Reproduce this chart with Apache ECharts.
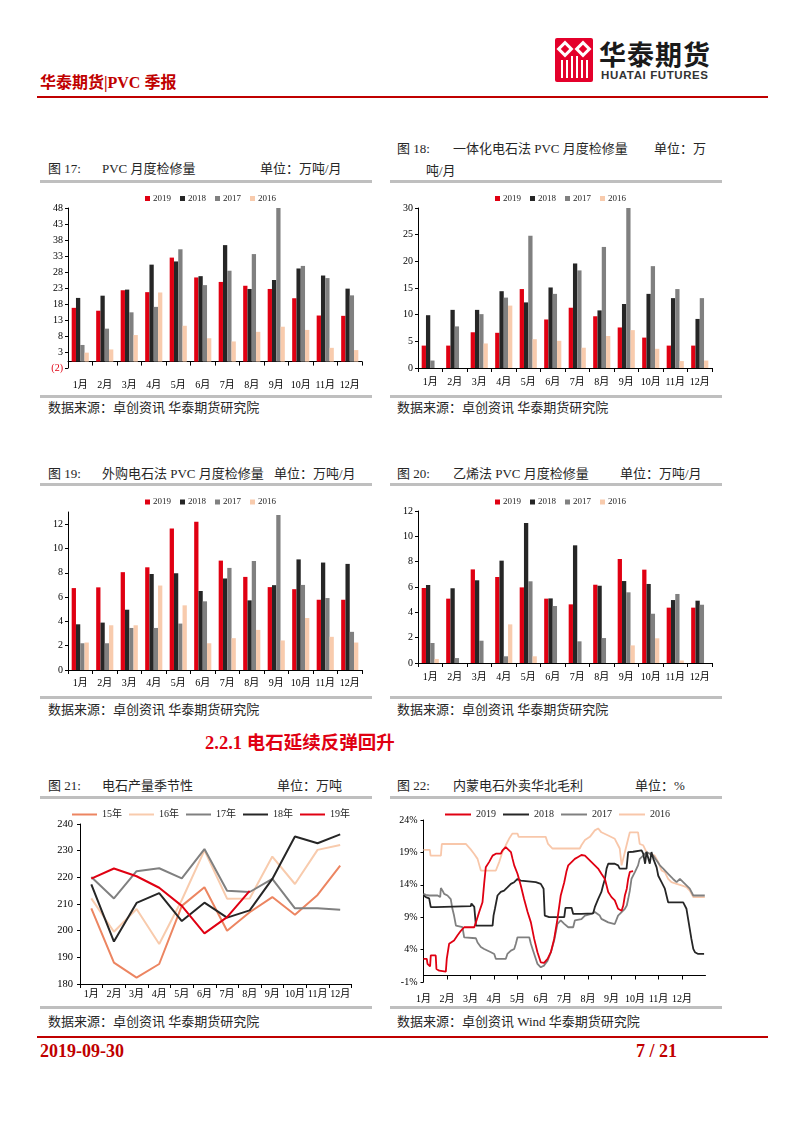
<!DOCTYPE html>
<html><head><meta charset="utf-8">
<script src="https://cdn.jsdelivr.net/npm/echarts@6/dist/echarts.min.js"></script>
<style>
html,body{margin:0;padding:0;background:#fff;}
#page{position:relative;width:802px;height:1133px;overflow:hidden;background:#fff;}
.t{position:absolute;white-space:nowrap;line-height:1;font-family:'Liberation Serif','Noto Sans CJK SC',serif;color:#262626;font-size:13px;}
.hl{position:absolute;background:#BFBFBF;height:3px;}
.rl{position:absolute;background:#C00000;height:2px;}
.chart{position:absolute;left:0;top:0;width:802px;height:1133px;}
</style></head><body><div id="page">
<!-- header -->
<div style="position:absolute;left:555px;top:38px;width:38px;height:44px;background:#E4002B;border-radius:2px;overflow:hidden;">
  <div style="position:absolute;left:4px;top:5px;width:12px;height:12px;background:#fff;transform:rotate(45deg)"></div>
  <div style="position:absolute;left:22px;top:5px;width:12px;height:12px;background:#fff;transform:rotate(45deg)"></div>
  <div style="position:absolute;left:7px;top:8px;width:6px;height:6px;background:#E4002B;transform:rotate(45deg)"></div>
  <div style="position:absolute;left:25px;top:8px;width:6px;height:6px;background:#E4002B;transform:rotate(45deg)"></div>
  <div style="position:absolute;left:6px;top:22px;width:2px;height:18px;background:#fff"></div>
  <div style="position:absolute;left:11px;top:22px;width:2px;height:18px;background:#fff"></div>
  <div style="position:absolute;left:16px;top:18px;width:2px;height:22px;background:#fff"></div>
  <div style="position:absolute;left:21px;top:18px;width:2px;height:22px;background:#fff"></div>
  <div style="position:absolute;left:26px;top:22px;width:2px;height:18px;background:#fff"></div>
  <div style="position:absolute;left:31px;top:22px;width:2px;height:18px;background:#fff"></div>
</div>
<div class="t" style="left:599px;top:40px;font-size:27px;font-weight:bold;color:#1a1a1a;font-family:'Noto Sans CJK SC',sans-serif;letter-spacing:1px;">华泰期货</div>
<div class="t" style="left:601px;top:70px;font-size:11.5px;font-weight:bold;color:#333;font-family:'Liberation Sans','DejaVu Sans',sans-serif;letter-spacing:0.6px;">HUATAI FUTURES</div>
<div class="t" style="left:40px;top:75px;font-size:16px;font-weight:bold;color:#C00000;">华泰期货|PVC 季报</div>
<div class="rl" style="left:37px;top:96px;width:731px;"></div>

<!-- fig 17 / 18 titles -->
<div class="t" style="left:48px;top:161.5px;">图 17:</div>
<div class="t" style="left:102px;top:161.5px;">PVC 月度检修量</div>
<div class="t" style="left:260px;top:161.5px;">单位：万吨/月</div>
<div class="t" style="left:397px;top:141.5px;">图 18:</div>
<div class="t" style="left:453px;top:141.5px;">一体化电石法 PVC 月度检修量</div>
<div class="t" style="left:654px;top:141.5px;">单位：万</div>
<div class="t" style="left:426px;top:163.5px;">吨/月</div>
<div class="hl" style="left:40px;top:180px;width:332px;"></div>
<div class="hl" style="left:390px;top:180px;width:332px;"></div>
<div class="hl" style="left:40px;top:395px;width:332px;"></div>
<div class="hl" style="left:390px;top:395px;width:332px;"></div>
<div class="t" style="left:48px;top:400.5px;">数据来源：卓创资讯 华泰期货研究院</div>
<div class="t" style="left:397px;top:400.5px;">数据来源：卓创资讯 华泰期货研究院</div>

<!-- fig 19 / 20 titles -->
<div class="t" style="left:48px;top:466.5px;">图 19:</div>
<div class="t" style="left:102px;top:466.5px;">外购电石法 PVC 月度检修量</div>
<div class="t" style="left:274px;top:466.5px;">单位：万吨/月</div>
<div class="t" style="left:397px;top:466.5px;">图 20:</div>
<div class="t" style="left:453px;top:466.5px;">乙烯法 PVC 月度检修量</div>
<div class="t" style="left:620px;top:466.5px;">单位：万吨/月</div>
<div class="hl" style="left:40px;top:483px;width:332px;"></div>
<div class="hl" style="left:390px;top:483px;width:332px;"></div>
<div class="hl" style="left:40px;top:695.5px;width:332px;"></div>
<div class="hl" style="left:390px;top:695.5px;width:332px;"></div>
<div class="t" style="left:48px;top:702.5px;">数据来源：卓创资讯 华泰期货研究院</div>
<div class="t" style="left:397px;top:702.5px;">数据来源：卓创资讯 华泰期货研究院</div>

<div class="t" style="left:205px;top:734px;font-size:18.5px;font-weight:bold;color:#E00012;">2.2.1 电石延续反弹回升</div>

<!-- fig 21 / 22 titles -->
<div class="t" style="left:48px;top:778.5px;">图 21:</div>
<div class="t" style="left:102px;top:778.5px;">电石产量季节性</div>
<div class="t" style="left:277px;top:778.5px;">单位：万吨</div>
<div class="t" style="left:397px;top:778.5px;">图 22:</div>
<div class="t" style="left:453px;top:778.5px;">内蒙电石外卖华北毛利</div>
<div class="t" style="left:635px;top:778.5px;">单位：%</div>
<div class="hl" style="left:40px;top:796px;width:332px;"></div>
<div class="hl" style="left:390px;top:796px;width:332px;"></div>
<div class="hl" style="left:40px;top:1006px;width:332px;"></div>
<div class="hl" style="left:390px;top:1006px;width:332px;"></div>
<div class="t" style="left:48px;top:1014.5px;">数据来源：卓创资讯 华泰期货研究院</div>
<div class="t" style="left:397px;top:1014.5px;">数据来源：卓创资讯 Wind 华泰期货研究院</div>

<!-- footer -->
<div class="rl" style="left:37px;top:1036px;width:731px;"></div>
<div class="t" style="left:40px;top:1042px;font-size:18px;font-weight:bold;color:#C00000;">2019-09-30</div>
<div class="t" style="left:636px;top:1042px;font-size:18px;font-weight:bold;color:#C00000;">7 / 21</div>

<div id="c17" class="chart"></div>
<div id="c18" class="chart"></div>
<div id="c19" class="chart"></div>
<div id="c20" class="chart"></div>
<div id="c21" class="chart"></div>
<div id="c22" class="chart"></div>
</div>
<script>
const SERIF = "'Liberation Serif','Noto Sans CJK SC',serif";
const months = ['1月','2月','3月','4月','5月','6月','7月','8月','9月','10月','11月','12月'];
const barYears = ['2019','2018','2017','2016'];
const barColors = ['#E00012','#262626','#808080','#F8CBAD'];

// Fig 17: PVC monthly maintenance
const c17_2019 = [16.8,15.9,22.3,21.7,32.5,26.3,24.9,23.7,22.7,19.8,14.4,14.3];
const c17_2018 = [19.9,20.6,22.5,30.3,31.3,26.7,36.4,22.7,25.5,29.1,26.9,22.8];
const c17_2017 = [5.2,10.3,15.4,17.1,35.1,23.9,28.4,33.6,48.0,29.9,26.1,20.7];
const c17_2016 = [2.8,3.8,8.3,21.6,11.2,7.3,6.3,9.3,10.9,9.9,4.3,3.6];
const c17_ticks = [-2,3,8,13,18,23,28,33,38,43,48];

// Fig 18: integrated calcium carbide method
const c18_2019 = [4.2,4.2,6.7,6.6,14.8,9.1,11.3,9.7,7.6,5.7,4.2,4.2];
const c18_2018 = [9.9,10.9,10.9,14.4,12.3,15.1,19.6,10.8,12.0,13.9,13.1,9.2];
const c18_2017 = [1.4,7.8,10.1,13.2,24.8,13.9,18.3,22.7,30.0,19.1,14.8,13.1];
const c18_2016 = [0,0,4.6,11.7,5.4,5.1,3.8,6.0,7.1,3.6,1.3,1.4];
const c18_ticks = [0,5,10,15,20,25,30];

// Fig 19: purchased calcium carbide method
const c19_2019 = [6.74,6.8,8.05,8.45,11.64,12.2,9.0,7.66,6.82,6.65,5.78,5.78];
const c19_2018 = [3.76,3.9,4.96,7.9,7.96,6.5,7.53,5.73,6.98,9.1,8.84,8.73];
const c19_2017 = [2.2,2.2,3.46,3.46,3.82,5.65,8.4,8.97,12.76,7.0,5.92,3.14];
const c19_2016 = [2.26,3.68,3.68,6.95,5.32,2.2,2.62,3.3,2.43,4.28,2.73,2.26];
const c19_ticks = [0,2,4,6,8,10,12];

// Fig 20: ethylene method
const c20_2019 = [5.92,5.08,7.39,6.79,5.97,5.08,4.63,6.18,8.21,7.37,4.37,4.37];
const c20_2018 = [6.16,5.9,6.53,8.08,11.05,5.1,9.29,6.1,6.47,6.24,4.97,4.92];
const c20_2017 = [1.58,0.39,1.76,0.53,6.45,4.5,1.71,1.97,5.58,3.89,5.45,4.6];
const c20_2016 = [0.32,0,0,3.05,0.53,0,0,0,1.39,1.95,0.2,0];
const c20_ticks = [0,2,4,6,8,10,12];

// Fig 21: calcium carbide output seasonality
const lineYears21 = ['15年','16年','17年','18年','19年'];
const s21_15 = [208.4,188.0,182.4,187.5,209.3,216.3,200.0,206.9,212.6,206.0,213.4,224.4];
const s21_16 = [212.1,199.6,208.1,195.0,211.5,230.1,212.0,212.1,227.8,217.5,230.3,232.1];
const s21_17 = [220.1,212.1,222.3,223.4,219.6,230.6,215.0,214.5,219.4,208.4,208.4,207.8];
const s21_18 = [217.4,195.9,210.4,214.1,203.6,210.5,204.9,207.6,219.4,235.3,232.8,236.1];
const s21_19 = [219.5,223.3,220.4,216.1,209.3,199.0,205.1,214.9];
const c21_ticks = [180,190,200,210,220,230,240];

// Fig 22: Inner Mongolia carbide to North China margin (x = month position, 0 = Jan 1)
const m22_2019 = [[0,2.56],[0.14,2.56],[0.17,1.8],[0.28,1.4],[0.31,3.1],[0.52,3.1],[0.55,1.0],[0.67,0.75],[0.95,0.6],[0.99,2.56],[1.09,4.9],[1.3,5.4],[1.45,6.2],[1.59,6.9],[1.73,7.45],[2.16,7.45],[2.23,8.2],[2.37,9.8],[2.51,11.3],[2.58,14.15],[2.65,16.7],[2.79,17.5],[2.94,18.5],[3.08,18.8],[3.29,18.8],[3.36,19.3],[3.5,19.8],[3.57,20.1],[3.72,19.05],[3.79,18.0],[3.86,17.0],[4.0,15.7],[4.14,13.9],[4.28,11.8],[4.43,9.8],[4.57,8.2],[4.71,5.65],[4.85,3.6],[4.99,2.04],[5.13,1.94],[5.28,2.56],[5.42,3.6],[5.56,5.65],[5.7,8.7],[5.84,12.35],[5.99,14.4],[6.08,16.0],[6.16,17.0],[6.3,17.5],[6.44,18.0],[6.58,18.3],[6.72,18.6],[6.87,18.5],[7.01,18.0],[7.15,17.5],[7.29,17.0],[7.43,16.5],[7.57,15.7],[7.72,14.9],[7.86,12.9],[8.0,12.1],[8.14,11.6],[8.28,10.3],[8.43,10.0],[8.5,10.8],[8.57,12.35],[8.65,13.4],[8.71,14.9],[8.78,16.0],[8.92,16.1]];
const m22_2018 = [[0,12.35],[0.1,12.1],[0.24,11.9],[0.31,10.55],[0.52,10.55],[0.6,10.7],[2.01,10.7],[2.04,11.1],[2.16,10.6],[2.23,7.7],[2.94,7.7],[2.98,9.25],[3.04,10.3],[3.15,12.35],[3.29,12.9],[3.43,13.1],[3.57,13.6],[3.72,14.15],[3.86,14.4],[4.0,14.9],[4.14,14.65],[4.78,14.4],[4.99,14.15],[5.11,13.4],[5.16,9.25],[5.35,9.0],[5.99,9.0],[6.04,10.45],[6.3,10.45],[6.37,9.5],[6.72,9.5],[6.8,9.6],[7.22,9.6],[7.29,10.55],[7.43,11.8],[7.57,12.9],[7.64,13.9],[7.72,14.9],[7.79,16.5],[7.86,17.25],[8.14,17.25],[8.28,17.0],[8.35,16.5],[8.64,16.5],[8.71,19.05],[8.92,19.1],[9.28,19.3],[9.35,18.8],[9.43,17.25],[9.49,19.05],[9.57,18.8],[9.63,17.25],[9.7,19.05],[9.78,18.0],[9.92,16.7],[9.99,15.4],[10.13,14.4],[10.27,13.4],[10.41,11.3],[11.05,11.3],[11.19,10.3],[11.26,8.74],[11.33,7.2],[11.4,5.65],[11.48,4.1],[11.55,3.6],[11.69,3.33],[11.94,3.33]];
const m22_2017 = [[0,12.6],[0.1,12.45],[0.24,12.35],[0.6,12.35],[0.71,12.1],[0.74,13.5],[0.81,13.1],[0.88,12.6],[1.02,12.35],[1.16,11.8],[1.23,10.3],[1.3,9.25],[1.38,7.7],[1.66,7.45],[1.73,5.9],[2.23,5.75],[2.3,5.1],[2.37,4.9],[2.44,4.4],[2.58,4.1],[2.65,3.85],[2.87,3.6],[3.01,3.33],[3.08,2.56],[3.5,2.56],[3.57,3.33],[3.72,3.85],[3.86,4.1],[3.93,4.9],[4.0,5.9],[4.5,5.9],[4.57,4.9],[4.64,4.1],[4.71,3.33],[4.78,2.56],[4.85,1.8],[4.99,1.27],[5.13,1.53],[5.28,2.3],[5.42,3.6],[5.56,5.4],[5.7,7.97],[5.84,8.5],[5.99,7.97],[6.16,7.45],[6.37,7.45],[6.44,8.5],[6.72,8.7],[6.87,9.25],[7.15,9.5],[7.29,9.8],[7.5,9.25],[7.57,8.74],[7.86,8.2],[8.14,7.95],[8.21,7.7],[8.28,9.25],[8.43,9.8],[8.57,10.3],[8.65,10.8],[8.71,11.8],[8.78,13.1],[8.85,14.9],[9.0,16.0],[9.13,17.0],[9.2,18.0],[9.35,18.5],[9.49,19.05],[9.63,18.8],[9.77,18.5],[9.92,17.75],[10.06,17.0],[10.2,16.5],[10.41,15.7],[10.62,14.9],[10.77,14.4],[10.91,14.9],[11.05,14.4],[11.19,13.9],[11.33,13.4],[11.48,12.35],[11.97,12.35]];
const m22_2016 = [[0,19.4],[0.27,19.4],[0.3,18.5],[0.74,18.5],[0.78,20.3],[1.8,20.3],[1.87,20.0],[2.0,19.5],[2.15,18.8],[2.3,18.0],[2.44,16.2],[3.08,16.2],[3.22,17.5],[3.36,19.05],[3.5,20.1],[3.64,21.1],[3.78,21.9],[4.0,21.9],[4.05,21.4],[5.2,21.4],[5.3,20.3],[5.49,19.6],[6.65,19.6],[6.72,20.1],[6.87,20.9],[7.08,21.4],[7.29,22.4],[7.43,22.7],[7.57,22.1],[7.86,21.6],[8.14,21.1],[8.28,20.1],[8.35,19.6],[8.43,17.0],[8.5,17.0],[8.57,19.05],[8.71,21.1],[8.78,22.1],[9.13,22.1],[9.2,20.3],[9.35,20.1],[9.49,19.05],[9.63,18.8],[9.84,18.5],[9.99,17.5],[10.13,16.2],[10.27,15.96],[10.41,14.9],[10.55,14.4],[10.77,14.15],[10.98,13.9],[11.19,13.64],[11.33,13.1],[11.48,12.1],[11.97,12.1]];
const c22_yticks = [-1,4,9,14,19,24];
const c22_xticks = [0,1,2,3,4,5,6,7,8,9,10,11];

function initChart(id){
  return echarts.init(document.getElementById(id), null, {renderer:'canvas', width:802, height:1133});
}

function makeBar(id, o){
  const ch = initChart(id);
  ch.setOption({
    animation:false,
    backgroundColor:'transparent',
    legend:{data:barYears, left:o.legendLeft, top:o.legendTop, padding:0, icon:'rect', itemWidth:5, itemHeight:5, itemGap:9,
      textStyle:{fontFamily:SERIF, fontSize:9, color:'#262626', padding:[0,0,0,-2]}},
    grid:{left:o.grid[0], top:o.grid[1], width:o.grid[2], height:o.grid[3], containLabel:false},
    xAxis:{type:'category', data:months, boundaryGap:true,
      axisLine:{show:true, onZero:true, lineStyle:{color:'#000', width:1}},
      axisTick:{show:true, length:4, inside:false, lineStyle:{color:'#000'}},
      axisLabel:{margin:o.labelMargin, fontSize:10, color:'#000', fontFamily:SERIF, interval:0},
      splitLine:{show:false}},
    yAxis:{type:'value', min:o.min, max:o.max, interval:o.interval,
      axisLine:{show:true, lineStyle:{color:'#000', width:1}},
      axisTick:{show:true, length:3, lineStyle:{color:'#000'}, customValues:o.ticks},
      axisLabel:{customValues:o.ticks, margin:5, fontSize:10, color:'#000', fontFamily:SERIF,
        formatter:function(v){ return v < 0 ? '{neg|(' + (-v) + ')}' : String(v); },
        rich:{neg:{color:'#E00012', fontSize:10, fontFamily:SERIF}}},
      splitLine:{show:false}},
    series:o.data.map(function(d,i){ return {name:barYears[i], type:'bar', data:d, barGap:'0%', barCategoryGap:'30%',
      itemStyle:{color:barColors[i]}, emphasis:{disabled:true}}; })
  });
}

makeBar('c17', {legendLeft:145, legendTop:194, grid:[68,208,294,160], min:-2, max:48, interval:5, ticks:c17_ticks, labelMargin:12,
  data:[c17_2019,c17_2018,c17_2017,c17_2016]});
makeBar('c18', {legendLeft:495, legendTop:194, grid:[418,208,294,160], min:0, max:30, interval:5, ticks:c18_ticks, labelMargin:9,
  data:[c18_2019,c18_2018,c18_2017,c18_2016]});
makeBar('c19', {legendLeft:145, legendTop:497.5, grid:[68,512,294,158], min:0, max:13, interval:2, ticks:c19_ticks, labelMargin:8,
  data:[c19_2019,c19_2018,c19_2017,c19_2016]});
makeBar('c20', {legendLeft:495, legendTop:497.5, grid:[418,511,294,152], min:0, max:12, interval:2, ticks:c20_ticks, labelMargin:9,
  data:[c20_2019,c20_2018,c20_2017,c20_2016]});

// Fig 21
(function(){
  const ch = initChart('c21');
  const cols = ['#EC8561','#F8CBAD','#808080','#262626','#E00012'];
  const data = [s21_15,s21_16,s21_17,s21_18,s21_19];
  ch.setOption({
    animation:false,
    legend:{data:lineYears21, left:72, top:809.5, padding:0, icon:'rect', itemWidth:25, itemHeight:2, itemGap:7,
      textStyle:{fontFamily:SERIF, fontSize:10, color:'#262626'}},
    grid:{left:80, top:824, width:271.5, height:160, containLabel:false},
    xAxis:{type:'category', data:months, boundaryGap:true,
      axisLine:{show:true, lineStyle:{color:'#000'}},
      axisTick:{show:true, length:4, lineStyle:{color:'#000'}},
      axisLabel:{margin:5, fontSize:10, color:'#000', fontFamily:SERIF, interval:0},
      splitLine:{show:false}},
    yAxis:{type:'value', min:180, max:240, interval:10,
      axisLine:{show:true, lineStyle:{color:'#000'}},
      axisTick:{show:true, length:3, lineStyle:{color:'#000'}, customValues:c21_ticks},
      axisLabel:{customValues:c21_ticks, margin:7, fontSize:10.5, color:'#000', fontFamily:SERIF},
      splitLine:{show:false}},
    series:data.map(function(d,i){ return {name:lineYears21[i], type:'line', data:d, showSymbol:false, symbol:'none',
      lineStyle:{color:cols[i], width:2}, itemStyle:{color:cols[i]}, emphasis:{disabled:true}}; })
  });
})();

// Fig 22
(function(){
  const ch = initChart('c22');
  const names = ['2016','2017','2018','2019'];
  const cols = ['#F8C7AA','#808080','#262626','#E00012'];
  const data = [m22_2016,m22_2017,m22_2018,m22_2019];
  ch.setOption({
    animation:false,
    legend:{data:['2019','2018','2017','2016'], left:445, top:809.5, padding:0, icon:'rect', itemWidth:26, itemHeight:2, itemGap:7,
      textStyle:{fontFamily:SERIF, fontSize:10, color:'#262626'}},
    grid:{left:423.5, top:820, width:282, height:162, containLabel:false},
    xAxis:{type:'value', min:0, max:12,
      axisLine:{show:true, onZero:true, lineStyle:{color:'#000'}},
      axisTick:{show:true, length:4, lineStyle:{color:'#000'}, customValues:c22_xticks},
      axisLabel:{customValues:c22_xticks, margin:12, fontSize:10, color:'#000', fontFamily:SERIF,
        formatter:function(v){ return months[Math.round(v)] || ''; }},
      splitLine:{show:false}},
    yAxis:{type:'value', min:-1, max:24, interval:5,
      axisLine:{show:true, lineStyle:{color:'#000'}},
      axisTick:{show:true, length:3, lineStyle:{color:'#000'}, customValues:c22_yticks},
      axisLabel:{customValues:c22_yticks, margin:6, fontSize:10, color:'#000', fontFamily:SERIF,
        formatter:function(v){ return v + '%'; }},
      splitLine:{show:false}},
    series:data.map(function(d,i){ return {name:names[i], type:'line', data:d, showSymbol:false, symbol:'none',
      lineStyle:{color:cols[i], width:1.8}, itemStyle:{color:cols[i]}, emphasis:{disabled:true}}; })
  });
})();
</script>
</body></html>
